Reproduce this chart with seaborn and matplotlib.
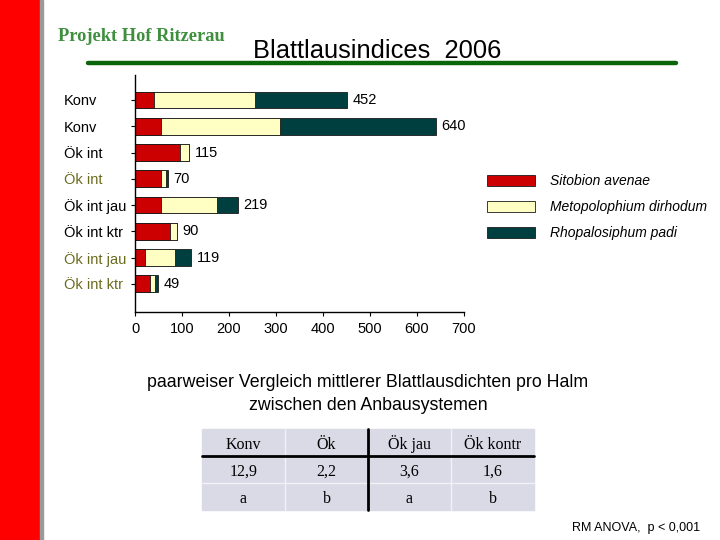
import matplotlib
matplotlib.use('Agg')
import matplotlib.pyplot as plt
from matplotlib.lines import Line2D
from matplotlib.patches import Patch, Rectangle
import pandas as pd
import seaborn as sns

# bar chart data (aphid index per halm, stacked by species)
row_labels = ['Konv', 'Konv', 'Ök int', 'Ök int', 'Ök int jau', 'Ök int ktr',
              'Ök int jau', 'Ök int ktr']
species = ['Sitobion avenae', 'Metopolophium dirhodum', 'Rhopalosiphum padi']
sitobion = [40, 55, 96, 55, 55, 74, 22, 32]
metopolophium = [215, 254, 19, 10, 119, 16, 64, 11]
rhopalosiphum = [197, 331, 0, 5, 45, 0, 33, 6]

# comparison table
table_header = ['Konv', 'Ök', 'Ök jau', 'Ök kontr']
table_means = ['12,9', '2,2', '3,6', '1,6']
table_groups = ['a', 'b', 'a', 'b']

W, H = 720, 540


def fx(x):
    return x / W


def fy(y):
    return 1 - y / H


def main():
    sns.set_style('ticks')
    plt.rcParams['font.family'] = ['Liberation Sans', 'DejaVu Sans']
    plt.rcParams['text.color'] = 'black'

    df = pd.DataFrame({
        'row': [str(i) for i in range(len(row_labels))],
        'sit': sitobion,
        'met': metopolophium,
        'rho': rhopalosiphum,
    })
    df['cum1'] = df['sit']
    df['cum2'] = df['cum1'] + df['met']
    df['cum3'] = df['cum2'] + df['rho']

    colors = ['#CC0000', '#FFFFC4', '#003F3F']

    fig = plt.figure(figsize=(7.2, 5.4), dpi=100)
    fig.patch.set_facecolor('white')
    ax = fig.add_axes([fx(135), fy(312), fx(464) - fx(135), fy(75) - fy(312)])

    # draw back to front: totals, then first two, then first only
    for col, color in [('cum3', colors[2]), ('cum2', colors[1]), ('cum1', colors[0])]:
        sns.barplot(data=df, x=col, y='row', order=list(df['row']), orient='h',
                    color=color, saturation=1, edgecolor='#1a1a1a',
                    linewidth=0.6, width=0.64, errorbar=None, ax=ax)

    ax.bar_label(ax.containers[0], labels=[str(v) for v in df['cum3']],
                 padding=4, fontsize=10.5, color='black')

    ax.set_xlim(0, 700)
    ax.set_xticks(range(0, 800, 100))
    ax.set_ylim(len(row_labels) - 1 + 1.07, -0.95)
    ax.set_yticks(range(len(row_labels)))
    ax.set_yticklabels(row_labels, ha='left')
    ax.set_xlabel('')
    ax.set_ylabel('')
    sns.despine(ax=ax)
    for s in ['left', 'bottom']:
        ax.spines[s].set_color('black')
        ax.spines[s].set_linewidth(1)
    ax.tick_params(axis='y', direction='out', length=3, width=0.8,
                   pad=48, labelsize=10.5, colors='black')
    ax.tick_params(axis='x', direction='out', length=3, width=0.8,
                   pad=4.5, labelsize=10.5, colors='black')
    olive_rows = [3, 6, 7]
    for i, t in enumerate(ax.get_yticklabels()):
        if i in olive_rows:
            t.set_color('#6B6B1E')

    # legend
    handles = [Patch(facecolor=c, edgecolor='#1a1a1a', linewidth=0.6) for c in colors]
    fig.legend(handles, species, loc='upper left',
               bbox_to_anchor=(fx(487), fy(174)), frameon=False,
               prop={'style': 'italic', 'size': 10},
               handlelength=3.45, handleheight=0.86, handletextpad=1.05,
               labelspacing=0.87, borderpad=0, borderaxespad=0)

    # page decoration
    fig.add_artist(Rectangle((0, 0), fx(40), 1, transform=fig.transFigure,
                             color='#FF0000', zorder=0))
    fig.add_artist(Rectangle((fx(40), 0), fx(3), 1, transform=fig.transFigure,
                             color='#9A9A9A', zorder=0))
    fig.text(fx(58), fy(41), 'Projekt Hof Ritzerau', color='#3F8F3F',
             family='Liberation Serif', fontsize=13.2, fontweight='bold',
             va='baseline')
    fig.text(fx(253), fy(58), 'Blattlausindices  2006', fontsize=18.4,
             va='baseline', color='black')
    fig.add_artist(Line2D([fx(88), fx(676)], [fy(63), fy(63)],
                          color='#0B650B', lw=3.2))

    fig.text(fx(368), fy(387), 'paarweiser Vergleich mittlerer Blattlausdichten pro Halm',
             ha='center', va='baseline', fontsize=12.8, color='black')
    fig.text(fx(368), fy(410), 'zwischen den Anbausystemen',
             ha='center', va='baseline', fontsize=12.8, color='black')

    # table
    xs = [202, 285, 368, 451, 534]
    ys = [429, 456, 483, 510]
    baselines = [449, 476, 503]
    fig.add_artist(Rectangle((fx(xs[0]), fy(ys[-1])), fx(xs[-1]) - fx(xs[0]),
                             fy(ys[0]) - fy(ys[-1]), transform=fig.transFigure,
                             color='#DADAE6', zorder=1))
    for x in [xs[1], xs[3]]:
        fig.add_artist(Line2D([fx(x), fx(x)], [fy(ys[0]), fy(ys[-1])],
                              color='#F2F2F6', lw=1, zorder=2))
    fig.add_artist(Line2D([fx(xs[0]), fx(xs[-1])], [fy(ys[2]), fy(ys[2])],
                          color='#F2F2F6', lw=1, zorder=2))
    fig.add_artist(Line2D([fx(xs[0]), fx(xs[-1])], [fy(ys[1]), fy(ys[1])],
                          color='black', lw=2, zorder=3))
    fig.add_artist(Line2D([fx(xs[2]), fx(xs[2])], [fy(ys[0]), fy(ys[-1])],
                          color='black', lw=2, zorder=3))
    for r, row in enumerate([table_header, table_means, table_groups]):
        for c, val in enumerate(row):
            xc = (xs[c] + xs[c + 1]) / 2
            fig.text(fx(xc), fy(baselines[r]), val, ha='center', va='baseline',
                     family='Liberation Serif', fontsize=11.5, color='black',
                     zorder=4)

    fig.text(fx(700), fy(531), 'RM ANOVA,  p < 0,001', ha='right',
             va='baseline', fontsize=9, color='black')

    fig.savefig('out.png', dpi=100)


if __name__ == '__main__':
    main()
